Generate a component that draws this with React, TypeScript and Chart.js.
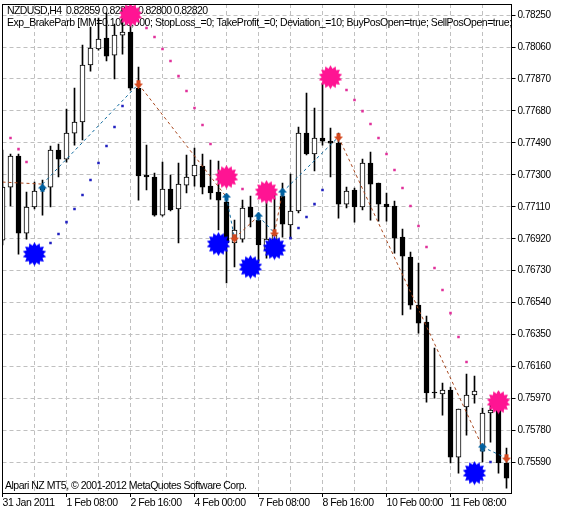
import { useEffect, useRef } from "react"
import { Chart, registerables } from "chart.js"

Chart.register(...registerables)

const FONT = "Liberation Sans"

const opens = [
  0.76912, 0.77227, 0.77412, 0.76954, 0.77109, 0.7721, 0.77227, 0.77447, 0.77394, 0.77548, 0.77614, 0.77953, 0.78048,
  0.78113, 0.78012, 0.78131, 0.78149, 0.77816, 0.77299, 0.77287, 0.77061, 0.77216, 0.77097, 0.77239, 0.77293, 0.77352,
  0.77233, 0.77198, 0.77138, 0.76895, 0.76918, 0.77109, 0.77031, 0.76853, 0.76912, 0.77174, 0.77002, 0.77085, 0.77548,
  0.77424, 0.77519, 0.77501, 0.77489, 0.77126, 0.7721, 0.77109, 0.7737, 0.77251, 0.77126, 0.77115, 0.7693, 0.76811,
  0.76526, 0.76425, 0.76009, 0.75997, 0.76021, 0.75622, 0.7592, 0.75991, 0.75658, 0.75884, 0.75902, 0.75587,
]
const highs = [
  0.77447, 0.77424, 0.77424, 0.77198, 0.77257, 0.77269, 0.77471, 0.77483, 0.77691, 0.77816, 0.78072, 0.78179, 0.78232,
  0.78262, 0.78196, 0.78292, 0.78292, 0.77941, 0.77477, 0.77311, 0.77376, 0.77299, 0.7737, 0.77418, 0.77459, 0.77424,
  0.77388, 0.77382, 0.77168, 0.77031, 0.7715, 0.77174, 0.77073, 0.77138, 0.7721, 0.77251, 0.77305, 0.77584, 0.77786,
  0.77697, 0.77846, 0.77578, 0.77548, 0.77227, 0.77222, 0.77394, 0.77436, 0.77251, 0.77192, 0.77144, 0.76978, 0.76841,
  0.76776, 0.76461, 0.7627, 0.76062, 0.76038, 0.75908, 0.76116, 0.76104, 0.75914, 0.75931, 0.76009, 0.75676,
]
const lows = [
  0.76883, 0.77115, 0.76829, 0.76918, 0.77097, 0.77061, 0.77109, 0.77287, 0.77376, 0.77477, 0.77507, 0.77917, 0.78042,
  0.77977, 0.7787, 0.78018, 0.77804, 0.7715, 0.7721, 0.77055, 0.77055, 0.77085, 0.76895, 0.77192, 0.77233, 0.77186,
  0.77156, 0.76972, 0.76657, 0.76752, 0.769, 0.7699, 0.76776, 0.76805, 0.76853, 0.7693, 0.76924, 0.77073, 0.77418,
  0.77323, 0.77477, 0.77287, 0.77043, 0.77103, 0.77019, 0.77091, 0.77031, 0.77025, 0.77025, 0.76835, 0.76467, 0.76502,
  0.76359, 0.75949, 0.75973, 0.75872, 0.75587, 0.75527, 0.75753, 0.75943, 0.75593, 0.75711, 0.75527, 0.75438,
]
const closes = [
  0.77227, 0.77412, 0.76954, 0.77109, 0.77204, 0.77222, 0.77447, 0.77394, 0.77548, 0.77614, 0.77953, 0.78054, 0.78107,
  0.78006, 0.78131, 0.78149, 0.77816, 0.77293, 0.77287, 0.77061, 0.77216, 0.77091, 0.77245, 0.77287, 0.77358, 0.77227,
  0.77192, 0.7715, 0.76895, 0.76972, 0.77103, 0.77049, 0.76883, 0.76918, 0.76942, 0.77007, 0.77085, 0.77548, 0.77424,
  0.77519, 0.77501, 0.77489, 0.77126, 0.77204, 0.77109, 0.7737, 0.77245, 0.77126, 0.77109, 0.76924, 0.76817, 0.76526,
  0.76419, 0.76003, 0.76003, 0.76021, 0.75622, 0.75908, 0.75991, 0.76015, 0.75884, 0.75902, 0.75587, 0.75497,
]

const sarSellIdx = [
  1, 2, 3, 18, 19, 20, 21, 22, 23, 24, 25, 26, 30, 43, 44, 45, 46, 47, 48, 49, 50, 51, 52, 53, 54, 55, 56, 57, 58,
]
const sarSell = [
  0.77519, 0.77453, 0.77376, 0.78173, 0.78119, 0.78048, 0.77977, 0.77887, 0.77798, 0.77697, 0.77596, 0.77483, 0.77216,
  0.77804, 0.77745, 0.77679, 0.77602, 0.77519, 0.77424, 0.77329, 0.77222, 0.77115, 0.76996, 0.76871, 0.76746, 0.76615,
  0.76478, 0.76336, 0.76187,
]
const sarBuyIdx = [6, 7, 8, 9, 10, 11, 12, 13, 14, 15, 36, 37, 38, 39, 40, 61]
const sarBuy = [
  0.76895, 0.76948, 0.77019, 0.77097, 0.7718, 0.77269, 0.7737, 0.77471, 0.77584, 0.77709, 0.76924, 0.76984, 0.77049,
  0.77126, 0.7721, 0.75593,
]

const sellSignalIdx = [16, 28, 33, 41, 62]
const sellSignal = [0.7825, 0.77287, 0.77198, 0.77881, 0.75949]
const buySignalIdx = [4, 27, 31, 34, 59]
const buySignal = [0.76829, 0.76889, 0.76752, 0.76865, 0.75527]

const buyDealIdx = [5, 28, 32, 35, 60]
const buyDeal = [0.77222, 0.77168, 0.77055, 0.77198, 0.75682]
const sellDealIdx = [17, 29, 34, 42, 63]
const sellDeal = [0.7784, 0.76924, 0.76954, 0.77525, 0.75616]

// one line joins the deals, every other leg is a sell / buy leg
const tradeIdx = [0, 5, 17, 28, 29, 32, 34, 35, 42, 60, 63]
const tradePrice = [
  0.77257, 0.77245, 0.7784, 0.77168, 0.76924, 0.77055, 0.76954, 0.77198, 0.77525, 0.75682, 0.75616,
]

const yTicks = [
  0.7825, 0.7806, 0.7787, 0.7768, 0.7749, 0.773, 0.7711, 0.7692, 0.7673, 0.7654, 0.7635, 0.7616, 0.7597, 0.7578, 0.7559,
]
const xGridIdx = [0, 4, 8, 12, 16, 20, 24, 28, 32, 36, 40, 44, 48, 52, 56, 60]
const xLabels = [
  "31 Jan 2011",
  "1 Feb 08:00",
  "2 Feb 16:00",
  "4 Feb 00:00",
  "7 Feb 08:00",
  "8 Feb 16:00",
  "10 Feb 00:00",
  "11 Feb 08:00",
]

const titleLines = [
  "NZDUSD,H4  0.82859 0.82860 0.82800 0.82820",
  "Exp_BrakeParb [MM=0.1000,000; StopLoss_=0; TakeProfit_=0; Deviation_=10; BuyPosOpen=true; SellPosOpen=true;",
]
const footer = "Alpari NZ MT5, \u00a9 2001-2012 MetaQuotes Software Corp."

function points(idx: number[], vals: number[]) {
  return idx.map((x, i) => ({ x, y: vals[i] }))
}

function starMarker(color: string) {
  const c = document.createElement("canvas")
  c.width = 25
  c.height = 25
  const g = c.getContext("2d")!
  const spikes = 14
  g.beginPath()
  for (let i = 0; i < spikes * 2; i++) {
    const r = i % 2 === 0 ? 12 : 8.8
    const a = (i * Math.PI) / spikes
    g.lineTo(12.5 + r * Math.sin(a), 12.5 - r * Math.cos(a))
  }
  g.closePath()
  g.fillStyle = color
  g.fill()
  return c
}

function arrowMarker(color: string, up: boolean) {
  const c = document.createElement("canvas")
  c.width = 9
  c.height = 9
  const g = c.getContext("2d")!
  if (!up) {
    g.translate(0, 9)
    g.scale(1, -1)
  }
  g.beginPath()
  g.moveTo(4.5, 0)
  g.lineTo(9, 5)
  g.lineTo(6.5, 5)
  g.lineTo(6.5, 8.5)
  g.lineTo(2.5, 8.5)
  g.lineTo(2.5, 5)
  g.lineTo(0, 5)
  g.closePath()
  g.fillStyle = color
  g.fill()
  return c
}

const framePlugin = {
  id: "frame",
  beforeDraw(chart: any) {
    chart.ctx.letterSpacing = "-0.45px"
  },
  beforeDatasetsDraw(chart: any) {
    const { ctx, chartArea } = chart
    ctx.save()
    ctx.font = `10.5px "${FONT}"`
    ctx.fillStyle = "#000"
    ctx.textBaseline = "middle"
    ctx.beginPath()
    ctx.rect(chartArea.left, chartArea.top, chartArea.right - chartArea.left, chartArea.bottom - chartArea.top)
    ctx.clip()
    ctx.letterSpacing = "-0.62px"
    ctx.fillText(titleLines[0], 7, 11)
    ctx.letterSpacing = "-0.45px"
    ctx.fillText(titleLines[1], 7, 23)
    ctx.letterSpacing = "-0.5px"
    ctx.fillText(footer, 5, 486)
    ctx.restore()
  },
  afterDatasetsDraw(chart: any) {
    const { ctx } = chart
    ctx.save()
    ctx.strokeStyle = "#000"
    ctx.lineWidth = 1
    ctx.strokeRect(2.5, 4.5, 509, 489)
    ctx.restore()
  },
}

export default function App() {
  const canvasRef = useRef<HTMLCanvasElement>(null)

  useEffect(() => {
    if (!canvasRef.current) return

    const chart = new Chart(canvasRef.current, {
      type: "line",
      data: {
        datasets: [
          {
            type: "bar",
            data: opens.map((_, i) => ({ x: i, y: [lows[i], highs[i]] })),
            backgroundColor: "#000",
            barThickness: 1,
            grouped: false,
            order: 6,
          },
          {
            type: "bar",
            data: opens.map((o, i) => ({ x: i, y: [o, closes[i]] })),
            backgroundColor: opens.map((o, i) => (closes[i] >= o ? "#fff" : "#000")),
            borderColor: "#000",
            borderWidth: 1,
            borderSkipped: false,
            barThickness: 5,
            grouped: false,
            order: 5,
          },
          {
            type: "line",
            data: points(tradeIdx, tradePrice),
            borderWidth: 1,
            borderDash: [3, 3],
            pointRadius: 0,
            borderColor: "#a8481f",
            segment: {
              borderColor: (ctx: any) => (ctx.p0DataIndex % 2 === 0 ? "#a8481f" : "#0f6a9e"),
            },
            order: 4,
          },
          {
            type: "scatter",
            data: points(sarSellIdx, sarSell),
            pointStyle: "rect",
            pointRadius: 1.8,
            pointBackgroundColor: "#e0309a",
            pointBorderWidth: 0,
            order: 3,
          },
          {
            type: "scatter",
            data: points(sarBuyIdx, sarBuy),
            pointStyle: "rect",
            pointRadius: 1.8,
            pointBackgroundColor: "#2020c0",
            pointBorderWidth: 0,
            order: 3,
          },
          {
            type: "scatter",
            data: points(buyDealIdx, buyDeal),
            pointStyle: arrowMarker("#0060a0", true),
            pointRadius: 5,
            order: 2,
          },
          {
            type: "scatter",
            data: points(sellDealIdx, sellDeal),
            pointStyle: arrowMarker("#d4481e", false),
            pointRadius: 5,
            order: 2,
          },
          {
            type: "scatter",
            data: points(sellSignalIdx, sellSignal),
            pointStyle: starMarker("#ff1493"),
            pointRadius: 12,
            order: 1,
          },
          {
            type: "scatter",
            data: points(buySignalIdx, buySignal),
            pointStyle: starMarker("#0000ff"),
            pointRadius: 12,
            order: 1,
          },
        ] as any,
      },
      options: {
        responsive: false,
        animation: false,
        layout: { autoPadding: false, padding: { left: 2.5, top: 4, right: 0, bottom: 0 } },
        plugins: { legend: { display: false }, tooltip: { enabled: false } },
        scales: {
          x: {
            type: "linear",
            min: 0,
            max: 63.625,
            offset: false,
            afterBuildTicks: (scale: any) => {
              scale.ticks = xGridIdx.map((value) => ({ value }))
            },
            afterFit: (scale: any) => {
              scale.height = 21
              scale.paddingLeft = 0
              scale.paddingRight = 0
            },
            grid: {
              offset: false,
              color: "#c0c0c0",
              tickLength: 4,
              tickColor: (ctx: any) => (ctx.index % 2 === 0 ? "#000" : "rgba(0,0,0,0)"),
            },
            border: { display: false, dash: [4, 3] },
            ticks: {
              autoSkip: false,
              maxRotation: 0,
              align: "start",
              padding: 0,
              color: "#000",
              font: { family: FONT, size: 10.5 },
              callback: (value: any) => (value % 8 === 0 ? xLabels[value / 8] : ""),
            },
          },
          y: {
            position: "right",
            min: 0.7540865,
            max: 0.7831575,
            afterBuildTicks: (scale: any) => {
              scale.ticks = yTicks.map((value) => ({ value }))
            },
            afterFit: (scale: any) => {
              scale.width = 52.5
              scale.paddingTop = 0
              scale.paddingBottom = 0
            },
            grid: { color: "#c0c0c0", tickLength: 4, tickColor: "#000" },
            border: { display: false, dash: [4, 3] },
            ticks: {
              autoSkip: false,
              padding: 2,
              color: "#000",
              font: { family: FONT, size: 10 },
              callback: (value: any) => Number(value).toFixed(5),
            },
          },
        },
      } as any,
      plugins: [framePlugin],
    })

    return () => chart.destroy()
  }, [])

  return (
    <div style={{ position: "fixed", left: 0, top: 0 }}>
      <canvas ref={canvasRef} width={564} height={514} style={{ display: "block" }} />
    </div>
  )
}
